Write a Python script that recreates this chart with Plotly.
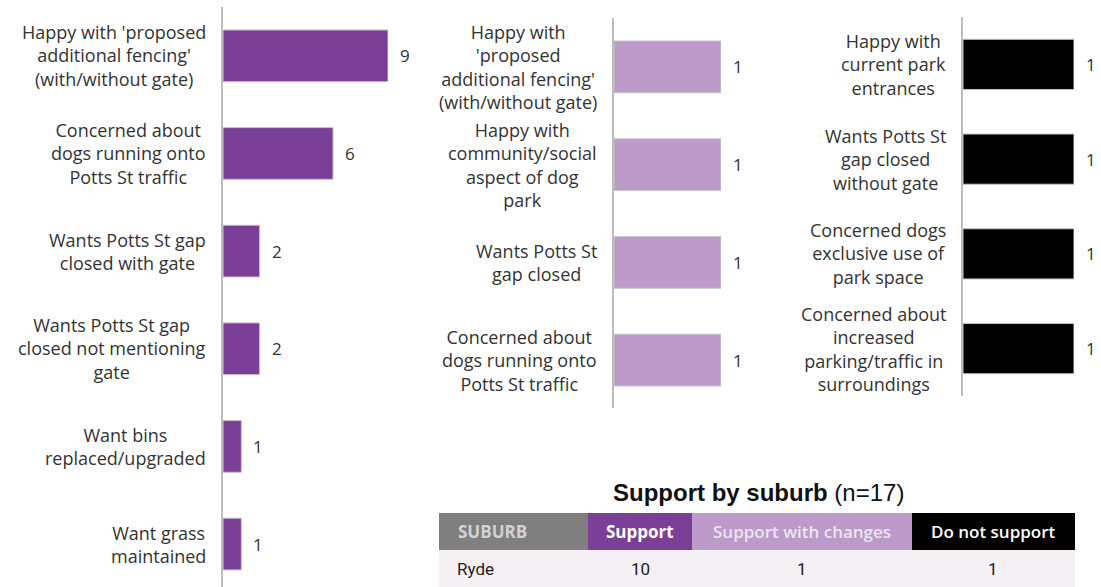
import plotly.graph_objects as go

W, H = 1101, 587

# Comments on the proposal, grouped by level of support
support_labels = [
    "Happy with 'proposed<br>additional fencing'<br>(with/without gate)",
    "Concerned about<br>dogs running onto<br>Potts St traffic",
    "Wants Potts St gap<br>closed with gate",
    "Wants Potts St gap<br>closed not mentioning<br>gate",
    "Want bins<br>replaced/upgraded",
    "Want grass<br>maintained",
]
support_counts = [9, 6, 2, 2, 1, 1]

changes_labels = [
    "Happy with<br>'proposed<br>additional fencing'<br>(with/without gate)",
    "Happy with<br>community/social<br>aspect of dog<br>park",
    "Wants Potts St<br>gap closed",
    "Concerned about<br>dogs running onto<br>Potts St traffic",
]
changes_counts = [1, 1, 1, 1]

oppose_labels = [
    "Happy with<br>current park<br>entrances",
    "Wants Potts St<br>gap closed<br>without gate",
    "Concerned dogs<br>exclusive use of<br>park space",
    "Concerned about<br>increased<br>parking/traffic in<br>surroundings",
]
oppose_counts = [1, 1, 1, 1]

# Support by suburb table
table_header = ["SUBURB", "Support", "Support with changes", "Do not support"]
table_row = ["Ryde", 10, 1, 1]

PURPLE = "#7b3f98"
LILAC = "#bc9bcb"
BLACK = "#000000"
TEXT = "#333333"
LABEL_FONT = "Open Sans"


def px(x):
    return x / W


def py(y):
    return 1 - y / H


panels = [
    # (labels, values, colour, x-pixels, y-pixels, y-range, x-max)
    (support_labels, support_counts, PURPLE, (223, 388), (7, 587), [5.44, -0.5], 9),
    (changes_labels, changes_counts, LILAC, (614, 721), (18, 408), [3.49, -0.5], 1),
    (oppose_labels, oppose_counts, BLACK, (963, 1074), (17, 396), [3.5, -0.5], 1),
]

fig = go.Figure()
annotations = []
shapes = []

for i, (labels, values, colour, (x0, x1), (y0, y1), yr, xmax) in enumerate(panels, start=1):
    sfx = "" if i == 1 else str(i)
    fig.add_trace(go.Bar(
        x=values, y=labels, orientation="h",
        marker=dict(color=colour, line=dict(color="#c9c4cc", width=1)),
        xaxis="x" + sfx, yaxis="y" + sfx,
        hoverinfo="x+y", showlegend=False,
    ))
    fig.layout["xaxis" + sfx] = dict(
        domain=[px(x0), px(x1)], range=[0, xmax], visible=False,
        anchor="y" + sfx, fixedrange=True,
    )
    fig.layout["yaxis" + sfx] = dict(
        domain=[py(y1), py(y0)], range=yr, type="category",
        anchor="x" + sfx, showticklabels=False, showgrid=False,
        zeroline=False, showline=True, linecolor="#bdbdbd", linewidth=2,
        ticks="", fixedrange=True,
    )
    for lab, val in zip(labels, values):
        # category label, lines centred, block right-aligned to the axis
        annotations.append(dict(
            x=0, xref="x" + sfx + " domain", y=lab, yref="y" + sfx,
            text=lab, showarrow=False, xanchor="right", yanchor="middle",
            align="center", xshift=-15,
            font=dict(family=LABEL_FONT, size=18, color=TEXT),
        ))
        # value label beyond the bar end
        annotations.append(dict(
            x=val, xref="x" + sfx, y=lab, yref="y" + sfx,
            text=str(val), showarrow=False, xanchor="left", yanchor="middle",
            xshift=10,
            font=dict(family="Open Sans", size=17, color=TEXT),
        ))

# Table title
annotations.append(dict(
    x=px(758), y=py(492), xref="paper", yref="paper",
    text="<b>Support by suburb</b> (n=17)", showarrow=False,
    xanchor="center", yanchor="middle",
    font=dict(family="Liberation Sans", size=24, color="#111111"),
))

# Table drawn as cells: header row and one data row
col_widths = [149, 104, 220, 163]
header_fill = ["#7f7f7f", PURPLE, LILAC, BLACK]
header_text = ["#d2d2d2", "#ffffff", "#ece4f0", "#ffffff"]
header_weight = [700, 700, 600, 600]
col_align = ["left", "center", "center", "center"]
tx0, ty0, row_h = 439, 513, 37

left = tx0
for j, w in enumerate(col_widths):
    right = left + w
    shapes.append(dict(type="rect", xref="paper", yref="paper",
                       x0=px(left), x1=px(right), y0=py(ty0 + row_h), y1=py(ty0),
                       fillcolor=header_fill[j], line=dict(width=0), layer="below"))
    shapes.append(dict(type="rect", xref="paper", yref="paper",
                       x0=px(left), x1=px(right), y0=py(ty0 + 2 * row_h), y1=py(ty0 + row_h),
                       fillcolor="#f4f0f4", line=dict(width=0), layer="below"))
    if col_align[j] == "left":
        ax, anchor = px(left + 17), "left"
    else:
        ax, anchor = px(left + w / 2), "center"
    annotations.append(dict(
        x=ax, y=py(ty0 + row_h / 2), xref="paper", yref="paper",
        text=table_header[j], showarrow=False, xanchor=anchor, yanchor="middle",
        font=dict(family="Open Sans", size=17, color=header_text[j],
                  weight=header_weight[j]),
    ))
    annotations.append(dict(
        x=ax if col_align[j] == "center" else px(left + 16),
        y=py(ty0 + row_h * 1.5), xref="paper", yref="paper",
        text=str(table_row[j]), showarrow=False, xanchor=anchor, yanchor="middle",
        font=dict(family="Roboto", size=17, color="#222222"),
    ))
    left = right

fig.update_layout(
    width=W, height=H,
    margin=dict(l=0, r=0, t=0, b=0),
    paper_bgcolor="white", plot_bgcolor="white",
    bargap=0.47,
    annotations=annotations,
    shapes=shapes,
)

fig.write_html("out.html")
